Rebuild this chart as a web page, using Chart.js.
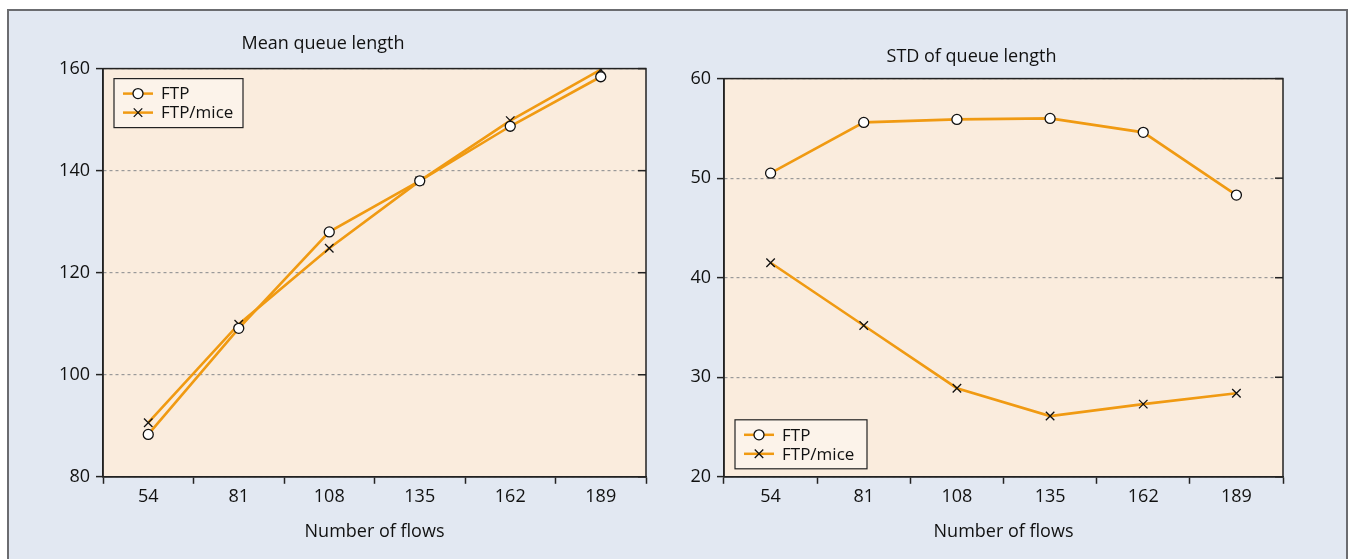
<!DOCTYPE html>
<html>
<head>
<meta charset="utf-8">
<script src="https://cdn.jsdelivr.net/npm/chart.js@4"></script>
<style>
  body { margin: 0; background: #fff; width: 1351px; height: 559px; overflow: hidden; position: relative; }
  #frame { position: absolute; left: 7px; top: 9px; width: 1337px; height: 570px; border: 2px solid #6b6c70; background: #e2e8f2; }
  canvas { position: absolute; top: 0; }
  #meanChart { left: 0; }
  #stdChart { left: 660px; }
</style>
</head>
<body>
<div id="frame"></div>
<canvas id="meanChart" width="660" height="559"></canvas>
<canvas id="stdChart" width="691" height="559"></canvas>
<script>
// values
const flows = ['54', '81', '108', '135', '162', '189'];
const meanFtp = [88.3, 109.1, 128.0, 138.0, 148.7, 158.4];
const meanMice = [90.6, 109.9, 124.8, 138.0, 149.8, 159.8];
const stdFtp = [50.5, 55.6, 55.9, 56.0, 54.6, 48.3];
const stdMice = [41.5, 35.2, 28.9, 26.1, 27.3, 28.4];

const ORANGE = '#f09a12';
const FONT = 'Open Sans';

// beige plot background
const plotBg = {
    id: 'plotBg',
    beforeDraw(chart) {
        const a = chart.chartArea;
        const ctx = chart.ctx;
        ctx.save();
        ctx.fillStyle = '#faecdd';
        ctx.fillRect(a.left, a.top, a.right - a.left, a.bottom - a.top);
        ctx.restore();
    }
};

// box around plot + small inner ticks on the right side
const plotFrame = {
    id: 'plotFrame',
    afterDraw(chart) {
        const a = chart.chartArea;
        const ctx = chart.ctx;
        const y = chart.scales.y;
        ctx.save();
        ctx.strokeStyle = '#222';
        ctx.lineWidth = 1.5;
        ctx.strokeRect(a.left, a.top, a.right - a.left, a.bottom - a.top);
        y.ticks.forEach((t, i) => {
            const py = y.getPixelForTick(i);
            ctx.beginPath();
            ctx.moveTo(a.right - 8, py);
            ctx.lineTo(a.right, py);
            ctx.stroke();
        });
        ctx.restore();
    }
};

// legend drawn inside the plot area
const innerLegend = {
    id: 'innerLegend',
    afterDraw(chart, args, opts) {
        const a = chart.chartArea;
        const ctx = chart.ctx;
        const w = opts.width, h = 49;
        const x = a.left + 11;
        const y = opts.bottom != null ? a.bottom - opts.bottom - h : a.top + opts.top;
        ctx.save();
        ctx.fillStyle = '#fcf3ea';
        ctx.fillRect(x, y, w, h);
        ctx.strokeStyle = '#222';
        ctx.lineWidth = 1.2;
        ctx.strokeRect(x, y, w, h);
        chart.data.datasets.forEach((ds, i) => {
            const ly = y + 15 + i * 19;
            ctx.strokeStyle = ds.borderColor;
            ctx.lineWidth = 2.5;
            ctx.beginPath();
            ctx.moveTo(x + 9, ly);
            ctx.lineTo(x + 39, ly);
            ctx.stroke();
            ctx.strokeStyle = ds.pointBorderColor;
            ctx.fillStyle = ds.pointBackgroundColor;
            ctx.lineWidth = ds.pointBorderWidth;
            Chart.helpers.drawPoint(ctx, {
                pointStyle: ds.pointStyle,
                radius: ds.pointRadius,
                borderWidth: ds.pointBorderWidth
            }, x + 24, ly);
            ctx.fillStyle = '#111';
            ctx.font = '17px "' + FONT + '"';
            ctx.textBaseline = 'middle';
            ctx.fillText(ds.label, x + 47, ly + 1);
        });
        ctx.restore();
    }
};

function series(label, data, style) {
    return {
        label: label,
        data: data,
        borderColor: ORANGE,
        borderWidth: 2.6,
        pointStyle: style,
        pointRadius: style === 'circle' ? 5 : 6,
        pointBorderWidth: 1.3,
        pointBorderColor: '#111',
        pointBackgroundColor: '#fff',
        tension: 0,
        fill: false
    };
}

function makeChart(id, title, a, b, yMin, yMax, step, legend, titlePad) {
    const ctx = document.getElementById(id).getContext('2d');
    return new Chart(ctx, {
        type: 'line',
        data: {
            labels: flows,
            datasets: [series('FTP', a, 'circle'), series('FTP/mice', b, 'crossRot')]
        },
        options: {
            responsive: false,
            animation: false,
            layout: { padding: { left: 0, right: legend.right, bottom: 16 } },
            plugins: {
                legend: { display: false },
                tooltip: { enabled: false },
                title: {
                    display: true,
                    text: title,
                    color: '#111',
                    font: { family: FONT, size: 18, weight: 'normal' },
                    padding: titlePad
                },
                innerLegend: legend
            },
            scales: {
                x: {
                    offset: true,
                    grid: { offset: true, drawOnChartArea: false, tickLength: 7, tickColor: '#222', tickWidth: 1.5 },
                    border: { color: '#222', width: 1.5 },
                    ticks: { color: '#111', padding: 2, font: { family: FONT, size: 18 } },
                    title: { display: true, text: 'Number of flows', color: '#111', padding: { top: 12, bottom: 0 }, font: { family: FONT, size: 18 } }
                },
                y: {
                    min: yMin,
                    max: yMax,
                    afterFit(s) { s.width = legend.axisWidth; },
                    grid: { color: '#999', lineWidth: 1.2, tickLength: 7, tickColor: '#222', tickWidth: 1.5, tickBorderDash: [] },
                    border: { color: '#222', width: 1.5, dash: [3, 3] },
                    ticks: { stepSize: step, color: '#111', padding: 6, font: { family: FONT, size: 18 } }
                }
            }
        },
        plugins: [plotBg, plotFrame, innerLegend]
    });
}

window.addEventListener('DOMContentLoaded', () => {
    makeChart('meanChart', 'Mean queue length', meanFtp, meanMice, 80, 160, 20,
        { top: 10, width: 129, right: 14, axisWidth: 103 }, { top: 33, bottom: 14 });
    makeChart('stdChart', 'STD of queue length', stdFtp, stdMice, 20, 60, 10,
        { bottom: 8, width: 132, right: 68, axisWidth: 64 }, { top: 46, bottom: 11 });
});
</script>
</body>
</html>
